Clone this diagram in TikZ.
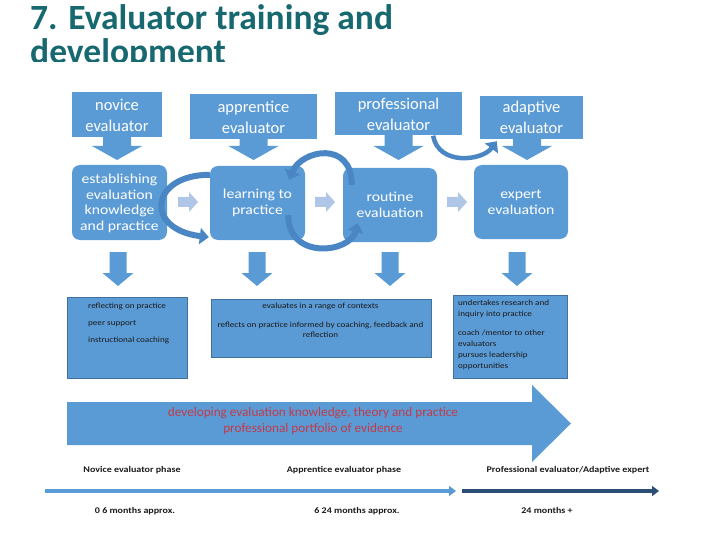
\documentclass[tikz,border=0pt]{standalone}
\usepackage{fontspec}
\setmainfont{Carlito}
\newfontfamily\widefont{Carlito}[FakeStretch=1.15]
\usepackage{tikz}
\usetikzlibrary{arrows.meta,calc}
\definecolor{titleteal}{HTML}{17696F}
\definecolor{boxblue}{HTML}{5B9BD5}
\definecolor{paleblue}{HTML}{AFC6E6}
\definecolor{edgeblue}{HTML}{41719C}
\definecolor{curveblue}{HTML}{4A86C4}
\definecolor{navyline}{HTML}{2D4E74}
\definecolor{notered}{HTML}{C23B4A}
\definecolor{ink}{HTML}{1A1A1A}

\begin{document}
\begin{tikzpicture}[x=1pt,y=-1pt,
    role/.style={fill=boxblue,text=white,align=center,inner sep=0pt,font=\fontsize{16.5}{21}\selectfont},
    stage/.style={fill=boxblue,text=white,align=center,rounded corners=8pt,inner sep=0pt,font=\widefont\fontsize{13.7}{15.5}\selectfont},
    notebox/.style={fill=boxblue,draw=edgeblue,line width=0.9pt,inner sep=0pt,anchor=north west},
    notetext/.style={text=ink,inner sep=0pt,font=\widefont\fontsize{7.9}{11}\selectfont},
    phase/.style={text=ink,anchor=base,font=\widefont\bfseries\fontsize{8.7}{10}\selectfont},
    curvarrow/.style={curveblue,line width=6pt,-{Triangle[length=9pt,width=16pt]}}]
  \useasboundingbox (0,0) rectangle (720,540);
  \begin{scope}
    \clip (0,0) rectangle (720,62);
    \node[anchor=base west,inner sep=0pt,text=titleteal,font=\bfseries\fontsize{35.5}{35}\selectfont] (title1) at (30,30) {7. Evaluator training and};
    \node[anchor=base west,inner sep=0pt,text=titleteal,font=\bfseries\fontsize{35.5}{35}\selectfont] (title2) at (30,64) {development};
  \end{scope}

  \node[role,minimum width=90,minimum height=45] (nov) at (117,115) {novice\\evaluator};
  \node[role,minimum width=127,minimum height=45] (app) at (253.5,117) {apprentice\\evaluator};
  \node[role,minimum width=127,minimum height=43] (pro) at (398.5,114) {professional\\evaluator};
  \node[role,minimum width=103,minimum height=43] (ada) at (531.5,117.5) {adaptive\\evaluator};
  \foreach \x/\y in {117/137,253.5/139,398.5/135,527/138}
    \fill[boxblue] (\x-14,\y-1) -- (\x-14,146) -- (\x-25,146) -- (\x,160) -- (\x+25,146) -- (\x+14,146) -- (\x+14,\y-1) -- cycle;

  \node[stage,minimum width=95,minimum height=75] (est) at (119.5,202.5) {\strut establishing\\evaluation\\knowledge\\and practice};
  \node[stage,minimum width=95,minimum height=74] (lrn) at (257.5,203) {learning to\\practice};
  \node[stage,minimum width=94,minimum height=74] (rou) at (390,205) {routine\\evaluation};
  \node[stage,minimum width=94,minimum height=74] (exp) at (521,202) {expert\\evaluation};
  \foreach \x in {178,315,447}
    \fill[paleblue] (\x,197) -- (\x+11,197) -- (\x+11,192) -- (\x+20,202) -- (\x+11,212) -- (\x+11,207) -- (\x,207) -- cycle;

  \draw[curvarrow] ([shift={(0,9)}]lrn.north west) .. controls +(-60,0) and +(-65,-8) .. ([shift={(-1,-3)}]lrn.south west);
  \draw[curvarrow] ([shift={(9,17)}]rou.north west) .. controls +(0,-45) and +(12,-30) .. ([shift={(-16,14)}]lrn.north east);
  \draw[curvarrow] ([shift={(-17,-25)}]lrn.south east) .. controls +(0,45) and +(-8,30) .. ([shift={(15,-19)}]rou.south west);
  \draw[curvarrow,line width=4.5pt] ([xshift=-29]pro.south east) .. controls +(5,30) and +(-15,20) .. ([shift={(17,2)}]ada.south west);

  \foreach \x in {118,257,390,517}
    \fill[boxblue] (\x-8.5,252) -- (\x-8.5,273) -- (\x-15.5,273) -- (\x,286) -- (\x+15.5,273) -- (\x+8.5,273) -- (\x+8.5,252) -- cycle;

  \node[notebox,minimum width=120,minimum height=81] (nb1) at (67,297) {};
  \node[notebox,minimum width=220,minimum height=58] (nb2) at (211,299) {};
  \node[notebox,minimum width=114,minimum height=83] (nb3) at (453,295) {};
  \node[notetext,anchor=north west,align=left,font=\widefont\fontsize{7.9}{17}\selectfont] (nt1) at ([shift={(21,6)}]nb1.north west) {reflecting on practice\\peer support\\instructional coaching};
  \node[notetext,anchor=north,align=center,font=\widefont\fontsize{7.9}{10.5}\selectfont] (nt2) at ([shift={(-1,4)}]nb2.north) {evaluates in a range of contexts\\[8pt]reflects on practice informed by coaching, feedback and\\reflection};
  \node[notetext,anchor=north west,align=left] (nt3) at ([shift={(5,5)}]nb3.north west) {undertakes research and\\inquiry into practice\\[8pt]coach /mentor to other\\evaluators\\pursues leadership\\opportunities};

  \fill[boxblue] (67,402) -- (532,402) -- (532,385) -- (571,423.5) -- (532,462) -- (532,445) -- (67,445) -- cycle;
  \node[text=notered,align=center,font=\fontsize{13.2}{16}\selectfont] (grow) at (313,421) {developing evaluation knowledge, theory and practice\\professional portfolio of evidence};

  \node[phase] (p1) at (132,472) {Novice evaluator phase};
  \node[phase] (p2) at (344,472) {Apprentice evaluator phase};
  \node[phase] (p3) at (568,472) {Professional evaluator/Adaptive expert};
  \coordinate (t0) at (45,491);
  \coordinate (t1) at (456,491);
  \coordinate (t2) at (462,491);
  \coordinate (t3) at (659,491);
  \draw[boxblue,line width=4pt,-{Triangle[length=7pt,width=10pt]}] (t0) -- (t1);
  \draw[navyline,line width=4pt,-{Triangle[length=7pt,width=10pt]}] (t2) -- (t3);
  \node[phase] (m1) at (135,513) {0 6 months approx.};
  \node[phase] (m2) at (357,513) {6 24 months approx.};
  \node[phase] (m3) at (547,513) {24 months +};
\end{tikzpicture}
\end{document}
